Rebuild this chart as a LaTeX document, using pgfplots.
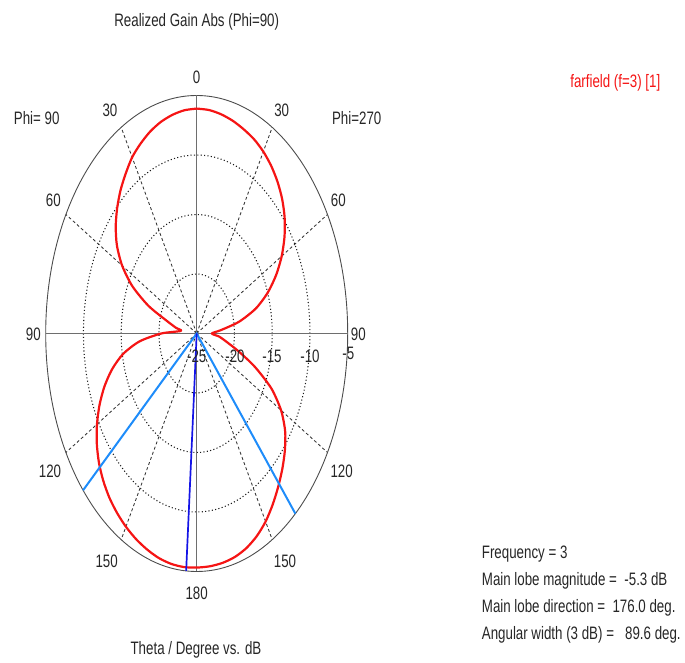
\documentclass[border=0pt]{standalone}
\usepackage{pgfplots}
\pgfplotsset{compat=1.18}
\usepackage{pgfplotstable}
\usepackage{fontspec}
\setmainfont{Liberation Sans}[FakeStretch=0.74]
\definecolor{cstred}{RGB}{245,20,20}
\definecolor{cstlblue}{RGB}{30,140,250}
\definecolor{cstdblue}{RGB}{20,20,230}
\definecolor{axgray}{RGB}{110,110,110}

% angle a: degrees clockwise from top (right half = Phi=270 side, left half = Phi=90 side, theta = 360-a)
\pgfplotstableread{
a g
0 -6.1
5 -6.15
10 -6.3
15 -6.5
20 -6.75
25 -7.0
30 -7.35
35 -7.8
40 -8.35
45 -9.0
50 -9.8
55 -10.8
60 -12.0
65 -13.4
70 -15.0
75 -16.9
80 -19.3
85 -21.8
90 -23.0
95 -22.0
100 -21.0
105 -19.3
110 -16.8
115 -14.1
120 -12.1
125 -10.7
130 -9.75
135 -8.95
140 -8.2
145 -7.45
150 -6.75
155 -6.2
160 -5.8
165 -5.55
170 -5.42
175 -5.36
180 -5.33
185 -5.3
190 -5.35
195 -5.48
200 -5.7
205 -5.95
210 -6.25
215 -6.6
220 -7.0
225 -7.5
230 -8.1
235 -8.85
240 -9.75
245 -10.8
250 -12.0
255 -13.4
260 -15.1
265 -17.4
270 -20.3
276 -22.9
280 -22.2
285 -20.9
290 -18.2
295 -15.6
300 -13.6
305 -12.1
310 -11.0
315 -10.1
320 -9.3
325 -8.6
330 -7.9
335 -7.4
340 -6.95
345 -6.6
350 -6.35
355 -6.17
360 -6.1
}\gaintab

\pgfplotstableread{
a g
184 -25
184 -5
}\mainlobe

\pgfplotstableread{
a g
228.8 -5
228.8 -25
139.2 -5
}\widthlines

\begin{document}
\begin{tikzpicture}
\fontsize{18bp}{21bp}\selectfont
\useasboundingbox (0,0) rectangle (685bp,663bp);
\begin{axis}[at={(45.7bp,91.5bp)}, anchor=south west, scale only axis,
  width=302bp, height=476bp, xmin=-20, xmax=20, ymin=-20, ymax=20,
  hide axis, clip=false]
  % dotted rings
  \foreach \r in {5,10,15} {
    \edef\tmp{\noexpand\draw[black!90, line width=1.05pt, dash pattern=on 1.1pt off 2.3pt] (axis cs:0,0) ellipse [x radius=\r, y radius=\r];}
    \tmp
  }
  % dashed spokes
  \draw[black!80, line width=0.85pt, dash pattern=on 3pt off 2.5pt]
    (axis cs:0,0) -- (axis cs:10,17.32)
    (axis cs:0,0) -- (axis cs:17.32,10)
    (axis cs:0,0) -- (axis cs:17.32,-10)
    (axis cs:0,0) -- (axis cs:10,-17.32)
    (axis cs:0,0) -- (axis cs:-10,17.32)
    (axis cs:0,0) -- (axis cs:-17.32,10)
    (axis cs:0,0) -- (axis cs:-17.32,-10)
    (axis cs:0,0) -- (axis cs:-10,-17.32);
  % outer ring and main axes
  \draw[black!70, line width=0.9pt] (axis cs:0,0) ellipse [x radius=20, y radius=20];
  \draw[axgray, line width=1.4pt] (axis cs:-20,0) -- (axis cs:20,0);
  \draw[axgray, line width=1.4pt] (axis cs:0,-20) -- (axis cs:0,20);
  % pattern
  \addplot[cstred, line width=2.2bp, line join=round, smooth, tension=0.45] table[x expr={(\thisrow{g}+25)*sin(\thisrow{a})}, y expr={(\thisrow{g}+25)*cos(\thisrow{a})}] {\gaintab};
  \addplot[cstlblue, line width=2bp] table[x expr={(\thisrow{g}+25)*sin(\thisrow{a})}, y expr={(\thisrow{g}+25)*cos(\thisrow{a})}] {\widthlines};
  \addplot[cstdblue, line width=1.7bp] table[x expr={(\thisrow{g}+25)*sin(\thisrow{a})}, y expr={(\thisrow{g}+25)*cos(\thisrow{a})}] {\mainlobe};
\end{axis}
\begin{scope}[every node/.style={text=black!85, inner sep=0pt}]
\node at (196.7bp,641.3bp) {Realized Gain Abs (Phi=90)};
\node at (196.7bp,586bp) {0};
\node at (110bp,553bp) {30};
\node at (281.7bp,553bp) {30};
\node at (53.3bp,463bp) {60};
\node at (338.3bp,463bp) {60};
\node at (33.3bp,329bp) {90};
\node at (358.3bp,329bp) {90};
\node at (50bp,191.3bp) {120};
\node at (341.7bp,191.3bp) {120};
\node at (106.7bp,101.3bp) {150};
\node at (285bp,101.3bp) {150};
\node at (196.7bp,70bp) {180};
\node at (196.7bp,306.3bp) {-25};
\node at (235bp,306.3bp) {-20};
\node at (272bp,306.3bp) {-15};
\node at (310bp,306.3bp) {-10};
\node at (348.3bp,309.7bp) {-5};
\node at (36.7bp,544.7bp) {Phi= 90};
\node at (356.7bp,544.7bp) {Phi=270};
\node at (196bp,13bp) {Theta / Degree vs. dB};
\node[text=cstred] at (615.3bp,580bp) {farfield (f=3) [1]};
\node[anchor=west] at (481.7bp,109bp) {Frequency = 3};
\node[anchor=west] at (481.7bp,82bp) {Main lobe magnitude =\ \ -5.3 dB};
\node[anchor=west] at (481.7bp,55bp) {Main lobe direction =\ \ 176.0 deg.};
\node[anchor=west] at (481.7bp,28bp) {Angular width (3 dB) =\ \ \ 89.6 deg.};
\end{scope}
\end{tikzpicture}
\end{document}
